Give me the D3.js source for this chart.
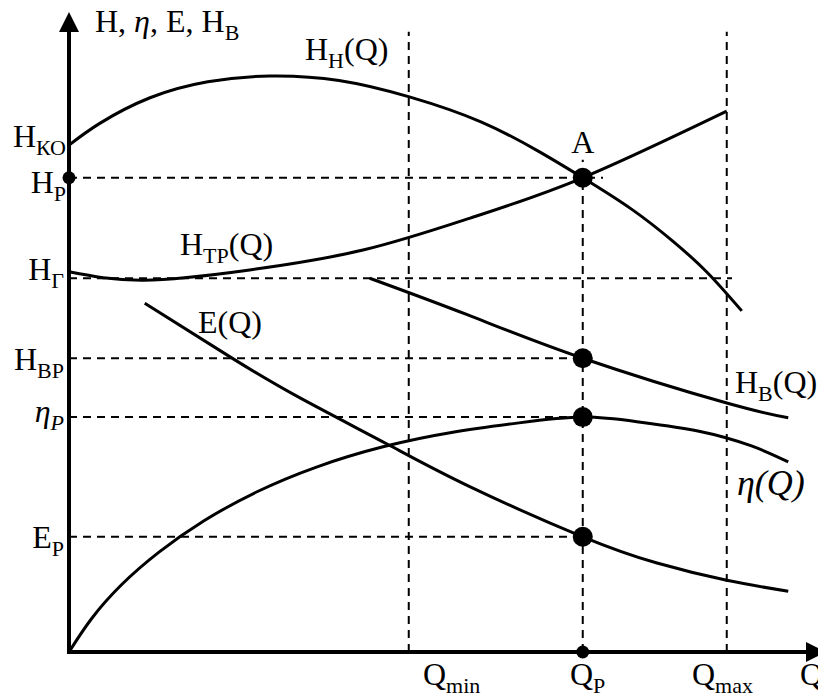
<!DOCTYPE html>
<html>
<head>
<meta charset="utf-8">
<script src="https://cdn.jsdelivr.net/npm/d3@7"></script>
<style>
  body { margin: 0; background: #fff; }
  svg { display: block; }
  text { font-family: "Liberation Serif", "DejaVu Serif", serif; fill: #000; }
</style>
</head>
<body>
<div id="chart"></div>
<script>
// curves, as [Q, value] pairs in chart units (Q 0..100, H 0..100)
const pumpHead = [[0,79.2],[4.1,82.6],[10.8,86.6],[18.5,89.1],[26.8,90.0],[36,89.3],[45.5,86.7],[55,82.8],[62.8,78.1],[68.5,74.1],[75,69.2],[80.5,64.2],[85.1,59.3],[89.7,53.3]]
const pipeHead = [[0,59.4],[9.9,58.1],[24.1,59.7],[39.2,62.8],[53.5,67.8],[68.5,74.1],[87.7,84.5]]
const suctionHead = [[40.1,58.4],[53.1,52.7],[68.5,45.9],[87.7,38.9],[95.9,36.6]]
const efficiency = [[0,0],[3,5.2],[7,10.5],[12,15.6],[18,20.5],[25,25.0],[33,28.9],[42,32.1],[51,34.3],[60,35.8],[68.5,36.7],[76,35.95],[84,34.5],[91,32.2],[95.9,29.7]]
const energy = [[10.1,54.5],[21.9,45.8],[30.8,39.7],[42.4,32.5],[53.5,25.8],[68.5,18.0],[78.4,13.9],[87.7,11.2],[95.9,9.5]]

// marked flows and levels
const qMin = 45.3, qP = 68.5, qMax = 87.7
const hKO = 79.2, hP = 74.1, hG = 58.4, hBP = 45.9, etaP = 36.7, eP = 18.0

const W = 818, H = 700
const x = d3.scaleLinear().domain([0, 100]).range([69, 819])
const y = d3.scaleLinear().domain([0, 100]).range([652, 12])

const svg = d3.select('#chart').append('svg')
    .attr('width', W)
    .attr('height', H)

// dashed guides
const guides = svg.append('g')
    .attr('stroke', '#000')
    .attr('stroke-width', 2)
    .attr('stroke-dasharray', '8,6')
    .attr('fill', 'none')

const hGuides = [[hP, qP + 2.7], [hG, qMax + 0.7], [hBP, qP], [etaP, qP], [eP, qP]]
hGuides.forEach(function(d) {
    guides.append('line')
        .attr('x1', x(0)).attr('x2', x(d[1]))
        .attr('y1', y(d[0])).attr('y2', y(d[0]))
})
const vGuides = [[qMin, 96.9], [qP, 76.9], [qMax, 96.9]]
vGuides.forEach(function(d) {
    guides.append('line')
        .attr('x1', x(d[0])).attr('x2', x(d[0]))
        .attr('y1', y(0)).attr('y2', y(d[1]))
})

// curves
const line = d3.line()
    .x(d => x(d[0]))
    .y(d => y(d[1]))
    .curve(d3.curveNatural)

;[pumpHead, pipeHead, suctionHead, efficiency, energy].forEach(function(series) {
    svg.append('path')
        .datum(series)
        .attr('d', line)
        .attr('fill', 'none')
        .attr('stroke', '#000')
        .attr('stroke-width', 3)
        .attr('stroke-linejoin', 'round')
})

// axes with arrows
const axes = svg.append('g')
axes.append('line')
    .attr('x1', x(0)).attr('x2', x(0))
    .attr('y1', y(0) + 2).attr('y2', y(100) + 18)
    .attr('stroke', '#000').attr('stroke-width', 4)
axes.append('line')
    .attr('x1', x(0) - 2).attr('x2', 808)
    .attr('y1', y(0)).attr('y2', y(0))
    .attr('stroke', '#000').attr('stroke-width', 4)
axes.append('path')
    .attr('d', `M${x(0)},${y(100)} L${x(0) - 10},${y(100) + 20} L${x(0) + 10},${y(100) + 20} Z`)
    .attr('fill', '#000')
axes.append('path')
    .attr('d', `M826,${y(0)} L806,${y(0) - 10} L806,${y(0) + 10} Z`)
    .attr('fill', '#000')

// points
const bigDots = [[qP, hP], [qP, hBP], [qP, etaP], [qP, eP]]
svg.selectAll('.big-dot')
    .data(bigDots)
    .enter().append('circle')
    .attr('class', 'big-dot')
    .attr('cx', d => x(d[0]))
    .attr('cy', d => y(d[1]))
    .attr('r', 10)
svg.append('circle').attr('cx', x(0)).attr('cy', y(hP)).attr('r', 6.5)
svg.append('circle').attr('cx', x(qP)).attr('cy', y(0)).attr('r', 6.5)

// labels
function label(px, py, parts, anchor) {
    var t = svg.append('text')
        .attr('x', px).attr('y', py)
        .attr('font-size', 32)
        .attr('text-anchor', anchor || 'start')
    parts.forEach(function(p) {
        var s = t.append('tspan').text(p.t)
        if (p.sub) {
            s.attr('font-size', 22).attr('dy', 8)
        } else if (p.up) {
            s.attr('dy', -8)
        }
        if (p.it) s.attr('font-style', 'italic')
    })
    return t
}

label(95, 32, [{t: 'H, '}, {t: 'η', it: true}, {t: ', E, H'}, {t: 'В', sub: true}])
label(66, 147, [{t: 'H'}, {t: 'КО', sub: true}], 'end')
label(66, 193, [{t: 'H'}, {t: 'Р', sub: true}], 'end')
label(64, 280, [{t: 'H'}, {t: 'Г', sub: true}], 'end')
label(64, 370, [{t: 'H'}, {t: 'ВР', sub: true}], 'end')
label(64, 422, [{t: 'η', it: true}, {t: 'P', sub: true, it: true}], 'end')
label(64, 548, [{t: 'E'}, {t: 'Р', sub: true}], 'end')

label(305, 60, [{t: 'H'}, {t: 'Н', sub: true}, {t: '(Q)', up: true}])
label(x(qP), 153, [{t: 'A'}], 'middle')
label(180, 255, [{t: 'H'}, {t: 'ТР', sub: true}, {t: '(Q)', up: true}])
label(198, 333, [{t: 'E(Q)'}])
label(735, 393, [{t: 'H'}, {t: 'В', sub: true}, {t: '(Q)', up: true}])
label(737, 495, [{t: 'η(Q)', it: true}]).attr('font-size', 36)

label(423, 685, [{t: 'Q'}, {t: 'min', sub: true}])
label(570, 685, [{t: 'Q'}, {t: 'Р', sub: true}])
label(692, 685, [{t: 'Q'}, {t: 'max', sub: true}])
label(800, 685, [{t: 'Q'}])
</script>
</body>
</html>
